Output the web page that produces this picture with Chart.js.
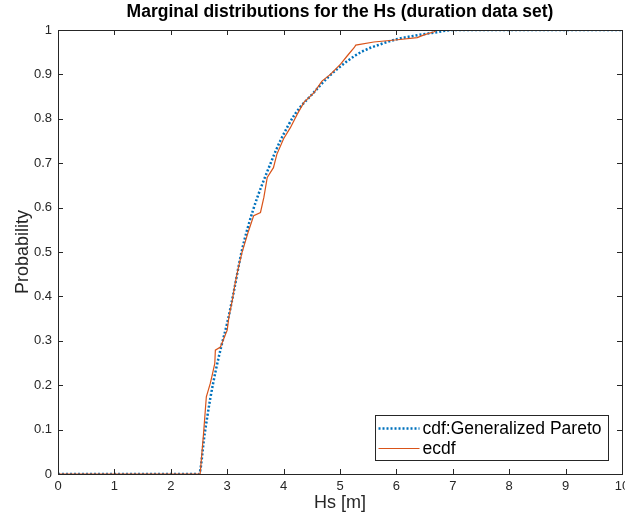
<!DOCTYPE html>
<html>
<head>
<meta charset="utf-8">
<script src="https://cdn.jsdelivr.net/npm/chart.js@4.4.1/dist/chart.umd.min.js"></script>
<style>
  html, body { margin: 0; padding: 0; background: #fff; }
  #wrap { width: 625px; height: 514px; }
</style>
</head>
<body>
<div id="wrap"><canvas id="cdfChart" width="625" height="514"></canvas></div>
<script>
// --- datos ---
const titleText = 'Marginal distributions for the Hs (duration data set)';
const xTicks = [0, 1, 2, 3, 4, 5, 6, 7, 8, 9, 10];
const yTicks = [0, 0.1, 0.2, 0.3, 0.4, 0.5, 0.6, 0.7, 0.8, 0.9, 1];

// cdf: Generalized Pareto (línea punteada)
const cdfX = [0, 2.5, 2.6, 2.7, 2.8, 2.9, 3.0, 3.1, 3.26, 3.46, 3.77, 3.94, 4.2, 4.54, 4.8, 5.13, 5.4, 5.72, 6.0, 6.31, 6.72, 7.0, 10];
const cdfY = [0, 0, 0.09, 0.17, 0.235, 0.29, 0.34, 0.4, 0.503, 0.595, 0.7, 0.75, 0.81, 0.86, 0.895, 0.93, 0.952, 0.968, 0.979, 0.987, 0.995, 1, 1];

// ecdf (línea continua)
const ecdfX = [0, 2.52, 2.58, 2.63, 2.70, 2.74, 2.78, 2.79, 2.88, 2.94, 3.0, 3.03, 3.09, 3.14, 3.20, 3.26, 3.38, 3.47, 3.59, 3.65, 3.71, 3.82, 3.88, 4.0, 4.12, 4.24, 4.36, 4.54, 4.68, 4.83, 5.01, 5.13, 5.25, 5.28, 5.6, 6.02, 6.37, 6.49, 6.67, 6.72, 10];
const ecdfY = [0, 0, 0.09, 0.174, 0.204, 0.226, 0.249, 0.279, 0.286, 0.305, 0.324, 0.354, 0.391, 0.429, 0.466, 0.498, 0.548, 0.582, 0.589, 0.623, 0.668, 0.69, 0.72, 0.755, 0.78, 0.81, 0.837, 0.859, 0.885, 0.90, 0.923, 0.942, 0.96, 0.966, 0.973, 0.978, 0.983, 0.989, 0.996, 1, 1];

const BLUE = '#0072BD';
const ORANGE = '#D95319';
const AXIS = '#262626';
const FONT = "'Liberation Sans', Arial, sans-serif";

function toPoints(xs, ys) {
    return xs.map((x, i) => ({ x: x, y: ys[i] }));
}

// --- caja, ticks hacia adentro, título y leyenda al estilo MATLAB ---
const matlabAxes = {
    id: 'matlabAxes',
    afterDraw(chart) {
        const ctx = chart.ctx;
        const a = chart.chartArea;
        const xs = chart.scales.x, ys = chart.scales.y;
        const tl = 5;

        ctx.save();
        ctx.strokeStyle = AXIS;
        ctx.lineWidth = 1;
        ctx.beginPath();
        xTicks.forEach(v => {
            const px = Math.round(xs.getPixelForValue(v)) + 0.5;
            ctx.moveTo(px, a.bottom); ctx.lineTo(px, a.bottom - tl);
            ctx.moveTo(px, a.top); ctx.lineTo(px, a.top + tl);
        });
        yTicks.forEach(v => {
            const py = Math.round(ys.getPixelForValue(v)) + 0.5;
            ctx.moveTo(a.left, py); ctx.lineTo(a.left + tl, py);
            ctx.moveTo(a.right, py); ctx.lineTo(a.right - tl, py);
        });
        ctx.stroke();
        ctx.strokeRect(Math.round(a.left) + 0.5, Math.round(a.top) + 0.5,
            Math.round(a.right - a.left), Math.round(a.bottom - a.top));

        // título
        ctx.fillStyle = '#000';
        ctx.font = 'bold 17.5px ' + FONT;
        ctx.textAlign = 'center';
        ctx.textBaseline = 'middle';
        ctx.fillText(titleText, (a.left + a.right) / 2, 12);

        // leyenda
        const items = chart.data.datasets.map(d => d);
        ctx.font = '17.5px ' + FONT;
        const textW = Math.max(...items.map(d => ctx.measureText(d.label).width));
        const sample = 41, rowH = 20;
        const boxR = Math.round(a.right) - 13.5;
        const boxB = Math.round(a.bottom) - 13.5;
        const boxW = 3 + sample + 3 + textW + 7;
        const boxH = rowH * items.length + 5;
        const boxL = boxR - boxW, boxT = boxB - boxH;
        ctx.fillStyle = '#fff';
        ctx.fillRect(boxL, boxT, boxW, boxH);
        ctx.strokeStyle = AXIS;
        ctx.strokeRect(boxL, boxT, boxW, boxH);
        items.forEach((d, i) => {
            const cy = boxT + 3 + rowH * (i + 0.5);
            ctx.save();
            ctx.strokeStyle = d.borderColor;
            ctx.lineWidth = d.borderWidth;
            ctx.setLineDash(d.borderDash || []);
            ctx.beginPath();
            ctx.moveTo(boxL + 3, cy); ctx.lineTo(boxL + 3 + sample, cy);
            ctx.stroke();
            ctx.restore();
            ctx.fillStyle = '#000';
            ctx.textAlign = 'left';
            ctx.fillText(d.label, boxL + 3 + sample + 3, cy + 1);
        });
        ctx.restore();
    }
};

new Chart(document.getElementById('cdfChart').getContext('2d'), {
    type: 'line',
    data: {
        datasets: [
            { label: 'cdf:Generalized Pareto', data: toPoints(cdfX, cdfY), borderColor: BLUE, borderWidth: 2.5,
              borderDash: [2, 2], pointRadius: 0, fill: false, cubicInterpolationMode: 'monotone', order: 2 },
            { label: 'ecdf', data: toPoints(ecdfX, ecdfY), borderColor: ORANGE, borderWidth: 1.2,
              pointRadius: 0, fill: false, tension: 0, order: 1 }
        ]
    },
    plugins: [matlabAxes],
    options: {
        responsive: false,
        animation: false,
        layout: { padding: { left: 0, right: 3, top: 30, bottom: 0 } },
        plugins: { legend: { display: false }, tooltip: { enabled: false }, title: { display: false } },
        scales: {
            x: {
                type: 'linear', min: 0, max: 10,
                afterBuildTicks: s => { s.ticks = xTicks.map(v => ({ value: v })); },
                afterFit: s => { s.height = 40; s.paddingLeft = 0; s.paddingRight = 0; },
                grid: { display: false, drawTicks: false },
                border: { display: false },
                ticks: { color: AXIS, font: { family: FONT, size: 13 }, padding: 5, maxRotation: 0, autoSkip: false },
                title: { display: true, text: 'Hs [m]', color: AXIS, font: { family: FONT, size: 18 }, padding: { top: 1, bottom: 0 } }
            },
            y: {
                type: 'linear', min: 0, max: 1,
                afterBuildTicks: s => { s.ticks = yTicks.map(v => ({ value: v })); },
                afterFit: s => { s.width = 58; s.paddingTop = 0; s.paddingBottom = 0; },
                grid: { display: false, drawTicks: false },
                border: { display: false },
                ticks: { color: AXIS, font: { family: FONT, size: 13 }, padding: 6, autoSkip: false,
                         callback: v => String(v) },
                title: { display: true, text: 'Probability', color: AXIS, font: { family: FONT, size: 18 }, padding: { top: 12, bottom: 0 } }
            }
        }
    }
});
</script>
</body>
</html>
